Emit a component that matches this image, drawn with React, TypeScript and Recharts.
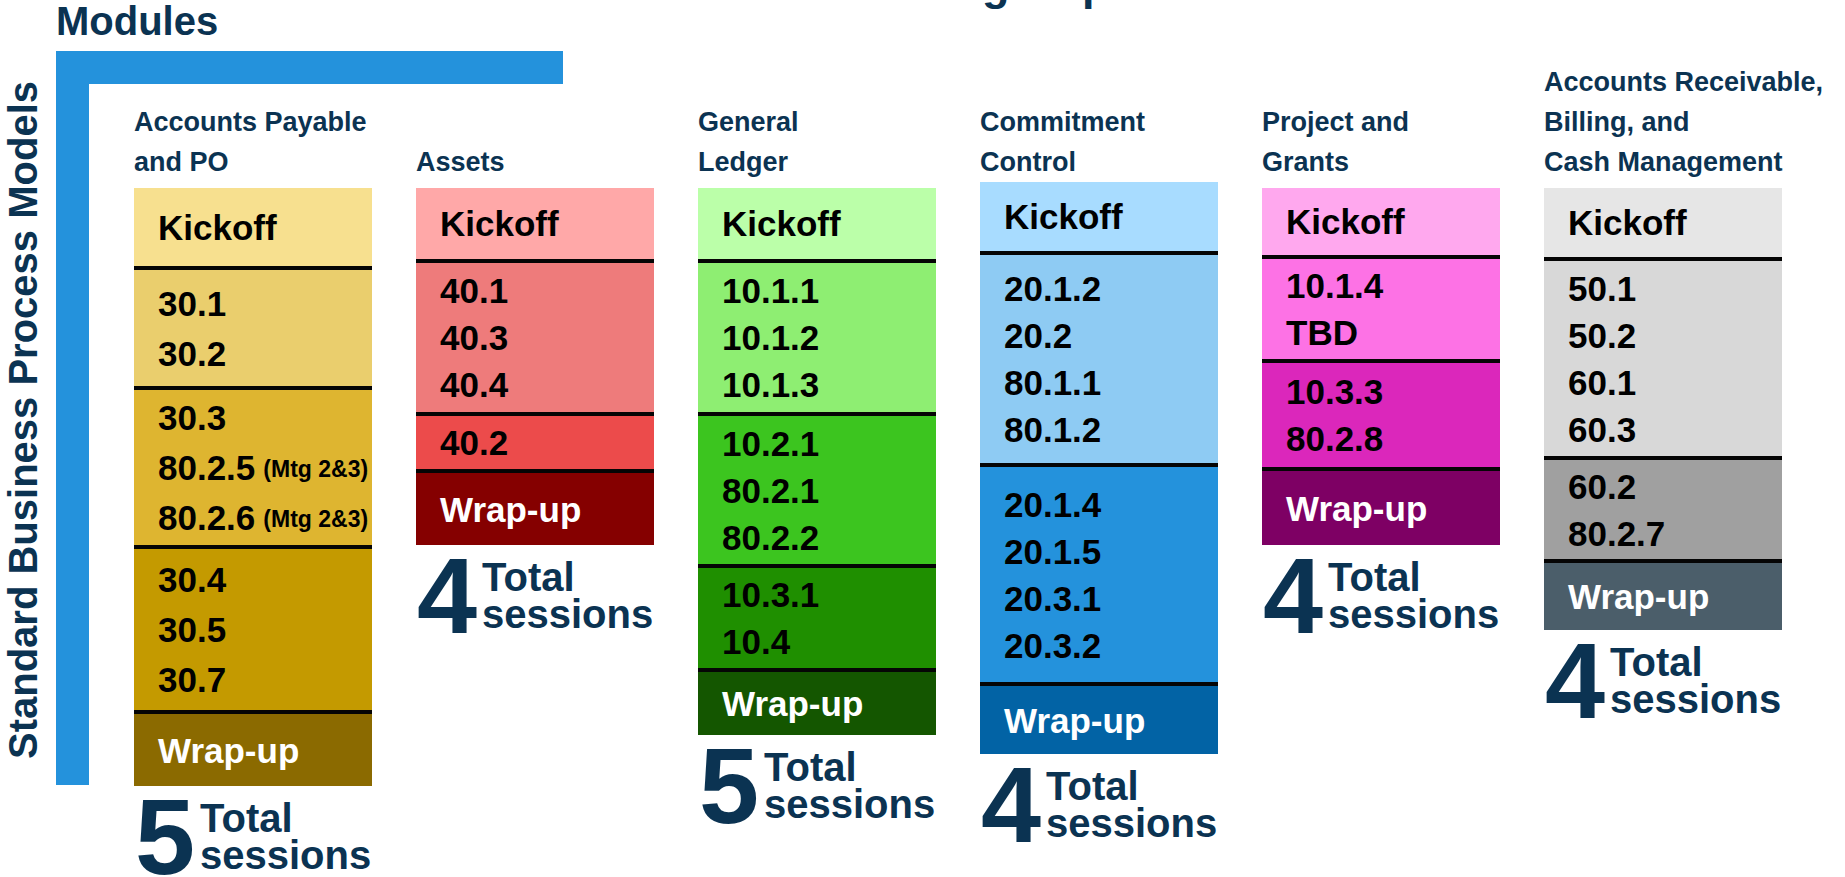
import React from 'react';
import { Bar, BarChart, Cell, LabelList, XAxis, YAxis } from 'recharts';

const modules = [
  'Accounts Payable\nand PO',
  'Assets',
  'General\nLedger',
  'Commitment\nControl',
  'Project and\nGrants',
  'Accounts Receivable,\nBilling, and\nCash Management',
];

// segment heights (chart units = px), top to bottom
const topGap = [8, 8, 8, 2, 8, 8];
const kickoffSize = [78, 71, 71, 69, 67, 69];
const group1Size = [116, 149, 149, 208, 100, 195];
const group2Size = [155, 53, 148, 215, 104, 99];
const group3Size = [161, 0, 100, 0, 0, 0];
const wrapSize = [72, 72, 63, 68, 74, 67];

const group1Items = [
  ['30.1', '30.2'],
  ['40.1', '40.3', '40.4'],
  ['10.1.1', '10.1.2', '10.1.3'],
  ['20.1.2', '20.2', '80.1.1', '80.1.2'],
  ['10.1.4', 'TBD'],
  ['50.1', '50.2', '60.1', '60.3'],
];
const group2Items = [
  ['30.3', '80.2.5 (Mtg 2&3)', '80.2.6 (Mtg 2&3)'],
  ['40.2'],
  ['10.2.1', '80.2.1', '80.2.2'],
  ['20.1.4', '20.1.5', '20.3.1', '20.3.2'],
  ['10.3.3', '80.2.8'],
  ['60.2', '80.2.7'],
];
const group3Items = [['30.4', '30.5', '30.7'], [], ['10.3.1', '10.4'], [], [], []];
const totalSessions = [5, 4, 5, 4, 4, 4];

const kickoffItems = modules.map(() => ['Kickoff']);
const wrapItems = modules.map(() => ['Wrap-up']);

// kickoff, group 1, group 2, group 3, wrap-up
const palette = [
  ['#F7E08F', '#EACE6D', '#DEB530', '#C49A00', '#8B6A00'],
  ['#FFA8A8', '#EE7B7B', '#EC4B4B', '#EC4B4B', '#850000'],
  ['#BBFFA9', '#8EEE72', '#3CC51F', '#1F8F00', '#145600'],
  ['#A8DCFF', '#8ECBF3', '#2492DC', '#2492DC', '#0263A5'],
  ['#FFA8EE', '#FD72E5', '#DB27BB', '#DB27BB', '#7E0064'],
  ['#E6E6E6', '#D8D8D8', '#A0A0A0', '#A0A0A0', '#4B5E6A'],
];

const RULE = 4;
const NAVY = '#0b3352';
const BLUE = '#2492DC';
const FONT = '"Liberation Sans", Arial, sans-serif';
const SEG_FONT = 35;
const lineGap = [50, 47, 47, 47, 47, 47];

const rows = modules.map((m, i) => ({
  module: m,
  idx: i,
  offset: topGap[i],
  kickoff: kickoffSize[i],
  sep1: RULE,
  g1: group1Size[i],
  sep2: RULE,
  g2: group2Size[i],
  sep3: RULE,
  g3: group3Size[i],
  sep4: group3Items[i].length ? RULE : 0,
  wrap: wrapSize[i],
}));

function rectOf(p: any) {
  const x = Number(p.x);
  const y = Number(p.y);
  const w = Number(p.width);
  const h = Number(p.height);
  return { x, w, top: Math.min(y, y + h), h: Math.abs(h) };
}

function segmentText(items: string[][], color: string) {
  return (p: any) => {
    const i = Number(p.value);
    const list = items[i];
    if (!list || list.length === 0) return null;
    const r = rectOf(p);
    const mid = r.top + r.h / 2;
    const gap = lineGap[i];
    return (
      <g>
        {list.map((t, k) => {
          const base = mid + (k - (list.length - 1) / 2) * gap + SEG_FONT * 0.36;
          const m = t.match(/^(\S+) (\(.+\))$/);
          return (
            <text
              key={k}
              x={r.x + 24}
              y={base}
              fill={color}
              fontSize={SEG_FONT}
              fontWeight={700}
              fontFamily={FONT}
            >
              {m ? (
                <>
                  <tspan>{m[1]}</tspan>
                  <tspan fontSize={23} dx={8} dy={-3}>
                    {m[2]}
                  </tspan>
                </>
              ) : (
                t
              )}
            </text>
          );
        })}
      </g>
    );
  };
}

function totalText(p: any) {
  const i = Number(p.value);
  const r = rectOf(p);
  const bottom = r.top + r.h + 2;
  return (
    <g fill={NAVY} fontFamily={FONT} fontWeight={700}>
      <text x={r.x + 1} y={bottom + 86} fontSize={108}>
        {totalSessions[i]}
      </text>
      <text x={r.x + 66} y={bottom + 44} fontSize={40}>
        Total
      </text>
      <text x={r.x + 66} y={bottom + 81} fontSize={40}>
        sessions
      </text>
    </g>
  );
}

function ColumnTitle(props: any) {
  const { x, payload } = props;
  const lines = String(payload.value).split('\n');
  const left = Number(x) - 119;
  return (
    <g>
      {lines.map((l, k) => (
        <text
          key={k}
          x={left}
          y={171 - (lines.length - 1 - k) * 40}
          fill={NAVY}
          fontSize={27}
          fontWeight={700}
          fontFamily={FONT}
        >
          {l}
        </text>
      ))}
    </g>
  );
}

const layers: { key: string; shade: number | null; items?: string[][]; color?: string }[] = [
  { key: 'kickoff', shade: 0, items: kickoffItems, color: '#000' },
  { key: 'sep1', shade: null },
  { key: 'g1', shade: 1, items: group1Items, color: '#000' },
  { key: 'sep2', shade: null },
  { key: 'g2', shade: 2, items: group2Items, color: '#000' },
  { key: 'sep3', shade: null },
  { key: 'g3', shade: 3, items: group3Items, color: '#000' },
  { key: 'sep4', shade: null },
];

export default function App() {
  return (
    <div style={{ position: 'absolute', left: 0, top: 0, background: '#fff' }}>
      <BarChart
        width={1845}
        height={877}
        data={rows}
        margin={{ top: 0, right: 41, bottom: 0, left: 112 }}
        barSize={238}
      >
        <XAxis
          dataKey="module"
          orientation="top"
          height={180}
          axisLine={false}
          tickLine={false}
          tickSize={0}
          interval={0}
          tick={(p: any) => <ColumnTitle {...p} />}
        />
        <YAxis hide type="number" domain={[0, 697]} reversed allowDataOverflow />

        <Bar dataKey="offset" stackId="col" fill="none" isAnimationActive={false} />
        {layers.map((l) => (
          <Bar key={l.key} dataKey={l.key} stackId="col" isAnimationActive={false}>
            {rows.map((r, i) => (
              <Cell key={i} fill={l.shade === null ? '#050505' : palette[i][l.shade]} />
            ))}
            {l.items && (
              <LabelList dataKey="idx" content={segmentText(l.items, l.color || '#000')} />
            )}
          </Bar>
        ))}
        <Bar dataKey="wrap" stackId="col" isAnimationActive={false}>
          {rows.map((r, i) => (
            <Cell key={i} fill={palette[i][4]} />
          ))}
          <LabelList dataKey="idx" content={segmentText(wrapItems, '#fff')} />
          <LabelList dataKey="idx" content={totalText} />
        </Bar>

        {/* frame: title, axis bracket and labels */}
        <text x={627} y={0} fill={NAVY} fontSize={45} fontWeight={700} fontFamily={FONT}>
          Finance module group sessions
        </text>
        <text x={56} y={35} fill={NAVY} fontSize={40} fontWeight={700} fontFamily={FONT}>
          Modules
        </text>
        <rect x={56} y={51} width={507} height={33} fill={BLUE} />
        <rect x={56} y={51} width={33} height={734} fill={BLUE} />
        <text
          x={37}
          y={420}
          transform="rotate(-90, 37, 420)"
          textAnchor="middle"
          fill={NAVY}
          fontSize={40}
          fontWeight={700}
          fontFamily={FONT}
        >
          Standard Business Process Models
        </text>
      </BarChart>
    </div>
  );
}
